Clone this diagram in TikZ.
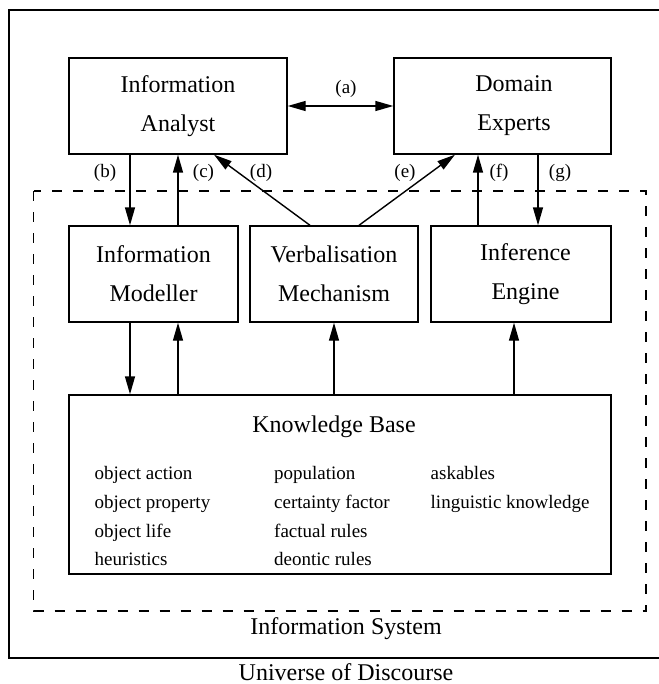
\documentclass[tikz,border=0pt]{standalone}
\usepackage{fontspec}
\setmainfont{Liberation Serif}
\usetikzlibrary{arrows.meta}
\tikzset{
  >={Triangle[length=9pt,width=5pt]},
  box/.style={draw, line width=0.7pt, minimum height=48pt, align=center, font=\fontsize{12}{19.5}\selectfont},
  txt/.style={align=center, font=\fontsize{12}{19.5}\selectfont},
  lbl/.style={font=\fontsize{9.5}{11}\selectfont, inner sep=1pt},
  item/.style={font=\fontsize{9.5}{11}\selectfont, anchor=base west, inner sep=0pt},
  big/.style={font=\fontsize{12}{14}\selectfont, anchor=base, inner sep=0pt},
}
\begin{document}
\begin{tikzpicture}[x=0.5pt, y=-0.5pt, line width=0.7pt]
    \useasboundingbox (0,0) rectangle (658,684);
    % universe and system borders
    \draw[line width=0.9pt](9,10) rectangle (664,658);
    \draw[dash pattern=on 5pt off 5.5pt](33.5,191) rectangle (646,611);
    \node[big] (uod) at (346,680) {Universe of Discourse};
    \node[big] (is) at (346,634) {Information System};
    % people
    \node[box, minimum width=109pt] (ia) at (178,106) {Information\\Analyst};
    \node[box, minimum width=108.5pt] (de) at (502.5,106) {};
    \node[txt] (det) at (514,106) {Domain\\Experts};
    % components
    \node[box, minimum width=84.5pt] (im) at (153.5,274) {Information\\Modeller};
    \node[box, minimum width=84pt] (vm) at (334,274) {Verbalisation\\Mechanism};
    \node[box, minimum width=90pt] (ie) at (521,274) {};
    \node[txt] (iet) at (525.5,274) {Inference\\Engine};
    % knowledge base
    \node[draw, minimum width=271pt, minimum height=89.5pt] (kb) at (340,484.5) {};
    \node[big] (kbt) at (334,432) {Knowledge Base};
    \foreach \t/\x/\y [count=\i] in {object action/94/479, object property/94/508,
        object life/94/537, heuristics/94/565, population/273.5/479,
        certainty factor/273.5/508, factual rules/273.5/537, deontic rules/273.5/565,
        askables/430/479, linguistic knowledge/430/508}
        \node[item] (kb\i) at (\x,\y) {\t};
    % interactions
    \draw[<->](ia) -- (de);
    \draw[->](ia.south -| 130,0) -- (im.north -| 130,0);
    \draw[->](im.north -| 178,0) -- (ia.south -| 178,0);
    \draw[->](vm.north -| 310,0) -- (ia.south -| 214,0);
    \draw[->](vm.north -| 359,0) -- (de.south -| 455,0);
    \draw[->](ie.north -| 478,0) -- (de.south -| 478,0);
    \draw[->](de.south -| 538,0) -- (ie.north -| 538,0);
    \node[lbl] (la) at (346,89) {(a)};
    \node[lbl] (lb) at (105,173) {(b)};
    \node[lbl] (lc) at (203.5,173) {(c)};
    \node[lbl] (ld) at (261,173) {(d)};
    \node[lbl] (le) at (405,173) {(e)};
    \node[lbl] (lf) at (499,173) {(f)};
    \node[lbl] (lg) at (560,173) {(g)};
    % links to the knowledge base
    \draw[->](im.south -| 130,0) -- (kb.north -| 130,0);
    \draw[->](kb.north -| 178,0) -- (im.south -| 178,0);
    \draw[->](kb.north -| vm.south) -- (vm.south);
    \draw[->](kb.north -| 514,0) -- (ie.south -| 514,0);
\end{tikzpicture}
\end{document}
